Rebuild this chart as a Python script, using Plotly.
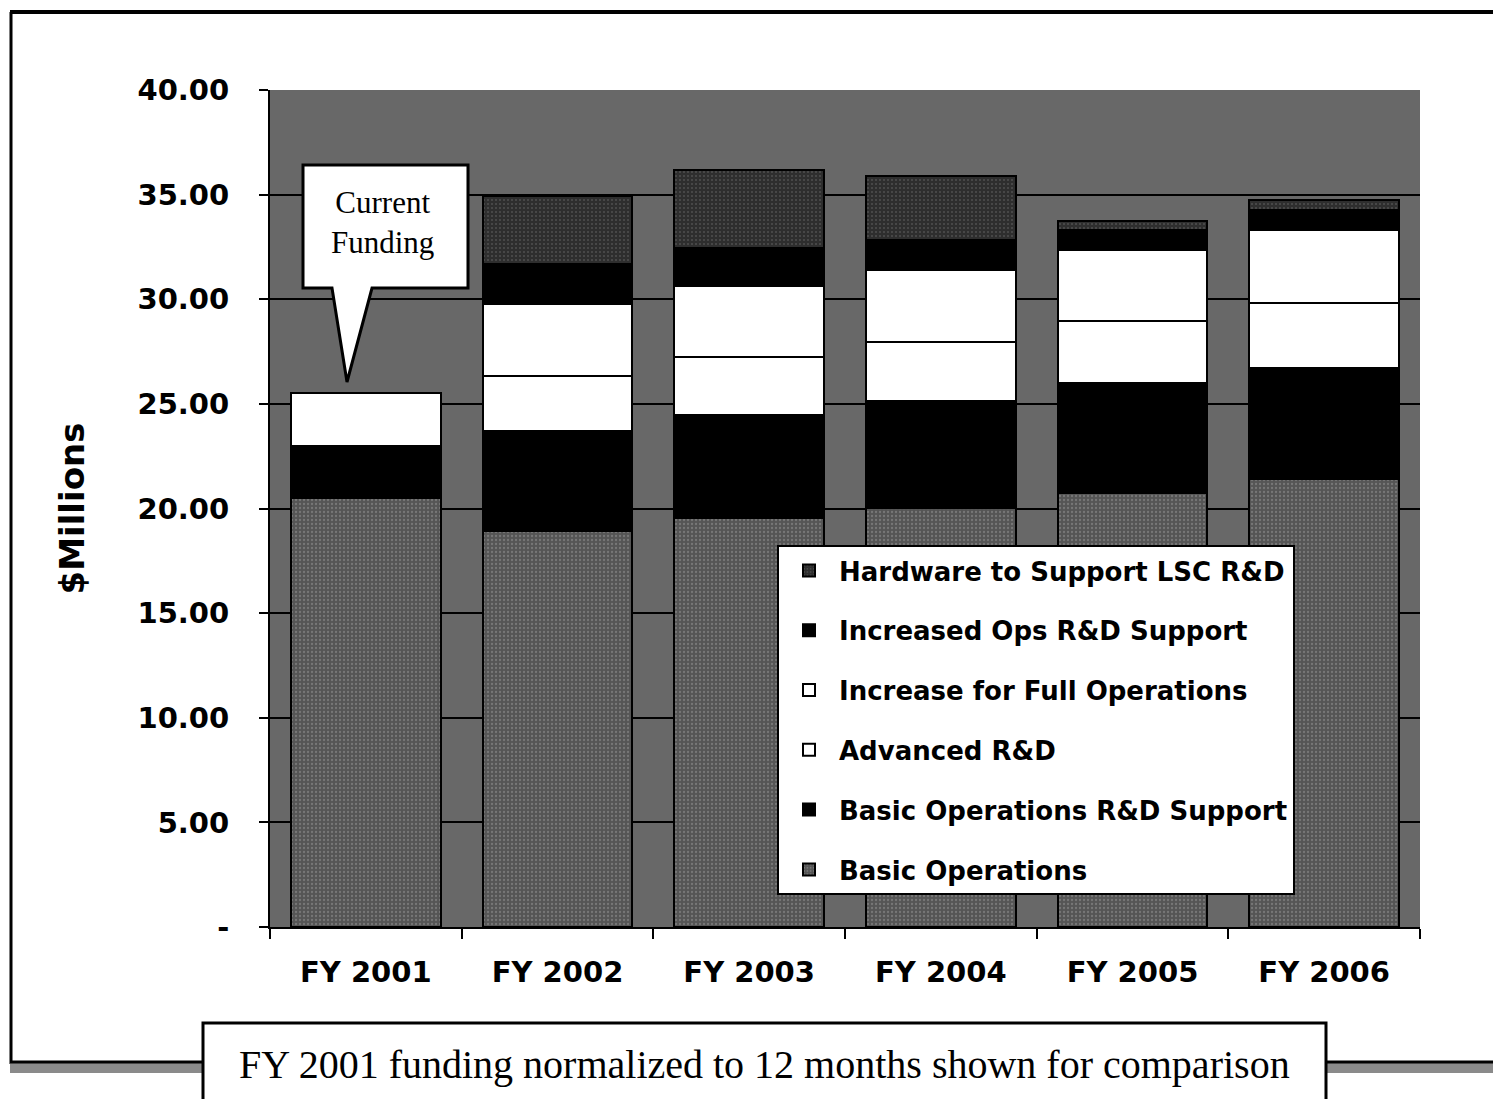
import plotly.graph_objects as go

years = ["FY 2001", "FY 2002", "FY 2003", "FY 2004", "FY 2005", "FY 2006"]
basic_ops = [20.48, 18.94, 19.53, 20.03, 20.76, 21.40]
basic_rd_support = [2.52, 4.75, 4.92, 5.13, 5.22, 5.31]
advanced_rd = [2.54, 2.66, 2.77, 2.81, 2.96, 3.10]
full_ops = [0.0, 3.43, 3.40, 3.43, 3.41, 3.48]
increased_ops_rd = [0.0, 1.90, 1.85, 1.43, 0.98, 0.97]
hardware_lsc = [0.0, 3.24, 3.72, 3.07, 0.40, 0.50]

y_tickvals = [0, 5, 10, 15, 20, 25, 30, 35, 40]
y_ticktext = ["-", "5.00", "10.00", "15.00", "20.00", "25.00", "30.00", "35.00", "40.00"]

series = [
    ("Basic Operations", basic_ops, "#555555", dict(shape=".", fgcolor="#9a9a9a", size=4, solidity=0.25)),
    ("Basic Operations R&D Support", basic_rd_support, "#000000", None),
    ("Advanced R&D", advanced_rd, "#ffffff", None),
    ("Increase for Full Operations", full_ops, "#ffffff", None),
    ("Increased Ops R&D Support", increased_ops_rd, "#000000", None),
    ("Hardware to Support LSC R&D", hardware_lsc, "#2e2e2e", dict(shape=".", fgcolor="#707070", size=4, solidity=0.2)),
]

O = 8  # page body offset
W, H = 1501 - O, 1099 - O
L, R, T, B = 270 - O, 1420 - O, 90 - O, 927 - O


def px(x):
    return (x - O - L) / (R - L)


def py(y):
    return (B - (y - O)) / (B - T)


fig = go.Figure()
n = len(series)
for i, (name, vals, color, pat) in enumerate(series):
    marker = dict(color=color, line=dict(color="#000000", width=2))
    if pat:
        marker["pattern"] = pat
    fig.add_trace(go.Bar(
        x=years, y=vals, name=name, marker=marker,
        legendgroup=f"g{i}", legendrank=n - i,
    ))

shapes = []
pts = [(303, 165), (468, 165), (468, 288), (372, 288), (347, 382), (332, 288), (303, 288)]
path = "M " + " L ".join(f"{px(a):.5f},{py(b):.5f}" for a, b in pts) + " Z"
shapes.append(dict(type="path", xref="paper", yref="paper", path=path,
                   fillcolor="#ffffff", line=dict(color="#000000", width=3), layer="above"))
shapes.append(dict(type="line", xref="paper", yref="paper", x0=px(10), x1=px(1501), y0=py(12), y1=py(12),
                   line=dict(color="#000000", width=4)))
shapes.append(dict(type="line", xref="paper", yref="paper", x0=px(11), x1=px(11), y0=py(12), y1=py(1064),
                   line=dict(color="#000000", width=3)))
for xa, xb in [(10, 205), (1325, 1501)]:
    shapes.append(dict(type="rect", xref="paper", yref="paper", x0=px(xa), x1=px(xb), y0=py(1062), y1=py(1073),
                       fillcolor="#8a8a8a", line=dict(width=0)))
    shapes.append(dict(type="line", xref="paper", yref="paper", x0=px(xa), x1=px(xb), y0=py(1062), y1=py(1062),
                       line=dict(color="#000000", width=3)))
shapes.append(dict(type="rect", xref="paper", yref="paper", x0=px(203), x1=px(1326), y0=py(1023), y1=py(1105),
                   fillcolor="#ffffff", line=dict(color="#000000", width=3)))

annotations = [
    dict(text="Current<br>Funding", xref="paper", yref="paper", x=px(382), y=py(222),
         xanchor="center", yanchor="middle", showarrow=False,
         font=dict(family="Liberation Serif", size=31, color="#000000")),
    dict(text="FY 2001 funding normalized to 12 months shown for comparison", xref="paper", yref="paper",
         x=px(764), y=py(1064), xanchor="center", yanchor="middle", showarrow=False,
         font=dict(family="Liberation Serif", size=40, color="#000000")),
]

fig.update_layout(
    width=W, height=H,
    margin=dict(l=L, r=W - R, t=T, b=H - B),
    barmode="stack",
    bargap=0.22,
    paper_bgcolor="#ffffff",
    plot_bgcolor="#686868",
    showlegend=True,
    legend=dict(
        x=px(777), y=py(545), xanchor="left", yanchor="top",
        bgcolor="#ffffff", bordercolor="#000000", borderwidth=2,
        font=dict(family="DejaVu Sans", size=26, color="#000000", weight="bold"),
        traceorder="grouped", tracegroupgap=23,
        itemwidth=50,
    ),
    shapes=shapes,
    annotations=annotations,
    xaxis=dict(
        type="category", showgrid=False, showline=True, linecolor="#000000", linewidth=2,
        ticks="outside", tickson="boundaries", ticklen=10, tickwidth=2, tickcolor="#000000",
        tickfont=dict(family="DejaVu Sans", size=29, color="#000000", weight="bold"),
        ticklabelstandoff=18,
    ),
    yaxis=dict(
        range=[0, 40], tickvals=y_tickvals, ticktext=y_ticktext,
        showgrid=True, gridcolor="#000000", gridwidth=2,
        showline=True, linecolor="#000000", linewidth=2,
        ticks="outside", ticklen=9, tickwidth=2, tickcolor="#000000",
        tickfont=dict(family="DejaVu Sans", size=29, color="#000000", weight="bold"),
        ticklabelstandoff=24,
        title=dict(text="$Millions", standoff=43,
                   font=dict(family="DejaVu Sans", size=34, color="#000000", weight="bold")),
        zeroline=False,
    ),
)

fig.write_html("out.html")
